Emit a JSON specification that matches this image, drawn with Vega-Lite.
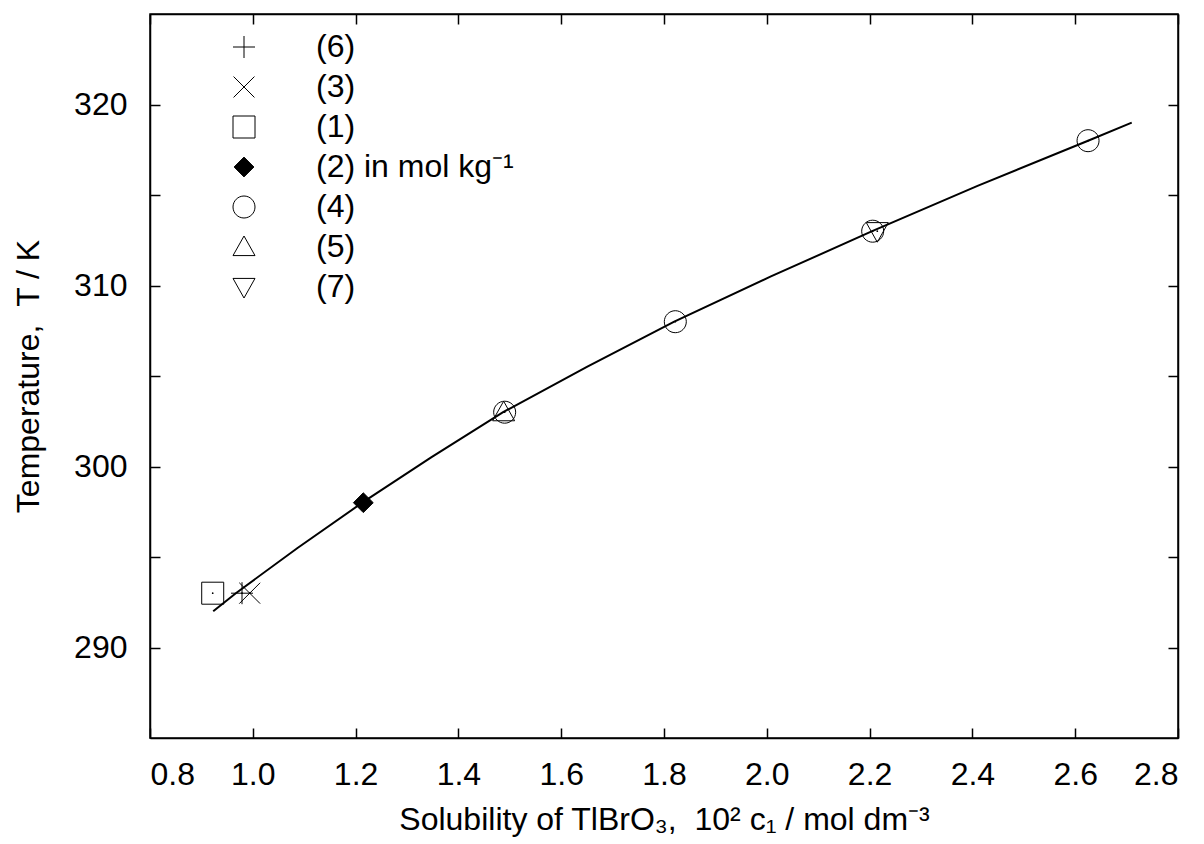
{
  "$schema": "https://vega.github.io/schema/vega-lite/v6.json",
  "width": 1028,
  "height": 724,
  "autosize": "none",
  "padding": {"left": 150, "top": 14, "right": 26, "bottom": 106},
  "background": "white",
  "config": {
    "font": "Liberation Sans",
    "view": {"stroke": "black", "strokeWidth": 1.5},
    "axis": {"grid": false, "domainColor": "black", "tickColor": "black", "labelColor": "black", "titleColor": "black", "labelFont": "Liberation Sans", "titleFont": "Liberation Sans", "labelFontSize": 32, "titleFontSize": 32, "titleFontWeight": "normal", "tickWidth": 1.5, "domainWidth": 1.5},
    "legend": {"labelFont": "Liberation Sans", "labelFontSize": 32, "labelColor": "black", "symbolStrokeColor": "black", "symbolStrokeWidth": 1, "symbolSize": 484, "labelLimit": 600}
  },
  "datasets": {
    "curve": [
      {"x": 0.923, "T": 292.0},
      {"x": 0.967, "T": 293.0},
      {"x": 1.087, "T": 295.5},
      {"x": 1.213, "T": 298.0},
      {"x": 1.347, "T": 300.5},
      {"x": 1.487, "T": 303.0},
      {"x": 1.65, "T": 305.5},
      {"x": 1.82, "T": 308.0},
      {"x": 2.008, "T": 310.5},
      {"x": 2.205, "T": 313.0},
      {"x": 2.41, "T": 315.5},
      {"x": 2.625, "T": 318.0},
      {"x": 2.71, "T": 319.0}
    ],
    "pts": [
      {"src": "(6)", "x": 0.979, "T": 293},
      {"src": "(3)", "x": 0.994, "T": 293},
      {"src": "(1)", "x": 0.922, "T": 293},
      {"src": "(2) in mol kg⁻¹", "x": 1.215, "T": 298},
      {"src": "(4)", "x": 1.49, "T": 303},
      {"src": "(4)", "x": 1.822, "T": 308},
      {"src": "(4)", "x": 2.206, "T": 313},
      {"src": "(4)", "x": 2.625, "T": 318},
      {"src": "(5)", "x": 1.488, "T": 303},
      {"src": "(7)", "x": 2.215, "T": 313}
    ]
  },
  "resolve": {"axis": {"x": "independent", "y": "independent"}},
  "layer": [
    {
      "data": {"name": "curve"},
      "mark": {"type": "line", "color": "black", "strokeWidth": 2},
      "encoding": {
        "x": {"field": "x", "type": "quantitative", "scale": {"domain": [0.8, 2.8], "nice": false, "zero": false},
          "axis": {"orient": "bottom", "title": "Solubility of TlBrO₃,\u00a0\u00a010² c₁ / mol dm⁻³", "values": [0.8, 1.0, 1.2, 1.4, 1.6, 1.8, 2.0, 2.2, 2.4, 2.6, 2.8], "format": ".1f", "tickSize": -10, "labelPadding": 31, "titlePadding": 14, "labelFontSize": 32, "titleFontSize": 32}},
        "y": {"field": "T", "type": "quantitative", "scale": {"domain": [285, 325], "nice": false, "zero": false},
          "axis": {"orient": "left", "title": "Temperature,\u00a0\u00a0T / K", "values": [290, 295, 300, 305, 310, 315, 320], "labelExpr": "datum.value % 10 == 0 ? datum.label : ''", "tickSize": -10, "labelPadding": 33, "titlePadding": 28, "labelFontSize": 32, "titleFontSize": 32}}
      }
    },
    {
      "data": {"name": "curve"},
      "mark": {"type": "line", "opacity": 0},
      "encoding": {
        "x": {"field": "x", "type": "quantitative", "scale": {"domain": [0.8, 2.8], "nice": false, "zero": false},
          "axis": {"orient": "top", "title": null, "labels": false, "values": [0.8, 1.0, 1.2, 1.4, 1.6, 1.8, 2.0, 2.2, 2.4, 2.6, 2.8], "tickSize": -10}},
        "y": {"field": "T", "type": "quantitative", "scale": {"domain": [285, 325], "nice": false, "zero": false},
          "axis": {"orient": "right", "title": null, "labels": false, "values": [290, 295, 300, 305, 310, 315, 320], "tickSize": -10}}
      }
    },
    {
      "data": {"name": "pts"},
      "mark": {"type": "point", "strokeWidth": 1, "opacity": 1, "size": 484},
      "encoding": {
        "x": {"field": "x", "type": "quantitative", "axis": null},
        "y": {"field": "T", "type": "quantitative", "axis": null},
        "shape": {"field": "src", "type": "nominal",
          "scale": {"domain": ["(6)", "(3)", "(1)", "(2) in mol kg⁻¹", "(4)", "(5)", "(7)"],
            "range": ["M-1,0H1M0,-1V1", "M-0.95,-0.95L0.95,0.95M-0.95,0.95L0.95,-0.95", "M-1,-1H1V1H-1Z", "M-0.9,0L0,-0.9L0.9,0L0,0.9Z", "M1,0A1,1,0,1,1,-1,0A1,1,0,1,1,1,0Z", "M0,-1L1,0.78L-1,0.78Z", "M0,1L1,-0.78L-1,-0.78Z"]},
          "legend": {"title": null, "orient": "none", "legendX": 78, "legendY": 17, "padding": 0, "rowPadding": 8, "labelOffset": 56, "symbolSize": 484, "labelFontSize": 32}},
        "fill": {"field": "src", "type": "nominal",
          "scale": {"domain": ["(6)", "(3)", "(1)", "(2) in mol kg⁻¹", "(4)", "(5)", "(7)"],
            "range": ["transparent", "transparent", "transparent", "black", "transparent", "transparent", "transparent"]},
          "legend": {"title": null, "orient": "none", "legendX": 78, "legendY": 17, "padding": 0, "rowPadding": 8, "labelOffset": 56, "symbolSize": 484, "labelFontSize": 32}},
        "stroke": {"field": "src", "type": "nominal",
          "scale": {"domain": ["(6)", "(3)", "(1)", "(2) in mol kg⁻¹", "(4)", "(5)", "(7)"],
            "range": ["black", "black", "black", "black", "black", "black", "black"]},
          "legend": {"title": null, "orient": "none", "legendX": 78, "legendY": 17, "padding": 0, "rowPadding": 8, "labelOffset": 56, "symbolSize": 484, "labelFontSize": 32}}
      }
    },
    {
      "data": {"name": "pts"},
      "mark": {"type": "point", "shape": "circle", "filled": true, "color": "black", "size": 3, "opacity": 1},
      "encoding": {
        "x": {"field": "x", "type": "quantitative", "axis": null},
        "y": {"field": "T", "type": "quantitative", "axis": null}
      }
    }
  ]
}
